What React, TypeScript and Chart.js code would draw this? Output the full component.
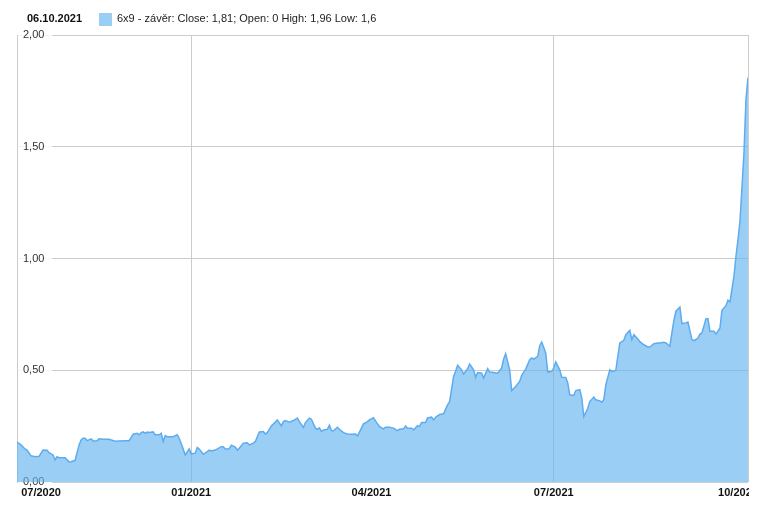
import React, { useEffect, useRef } from 'react';
import { Chart, registerables } from 'chart.js';

Chart.register(...registerables);

// days since 06.10.2020 (trading days)
const dayOffsets = [
  0, 2, 4, 5, 7, 9, 11, 13, 15, 16, 18, 19, 20, 21, 24, 26, 27, 29, 31, 32,
  33, 34, 35, 37, 38, 40, 41, 43, 46, 49, 51, 54, 56, 58, 60, 61, 62, 63, 64, 65,
  66, 68, 69, 71, 72, 73, 74, 75, 78, 80, 81, 83, 84, 86, 87, 89, 90, 91, 93, 95,
  96, 97, 99, 102, 103, 104, 106, 107, 109, 110, 111, 113, 115, 116, 118, 119, 121, 123, 124, 125,
  127, 129, 130, 132, 133, 134, 136, 138, 140, 141, 143, 144, 146, 147, 149, 150, 151, 152, 153, 155,
  156, 157, 158, 160, 161, 163, 165, 167, 169, 170, 171, 173, 175, 176, 178, 180, 181, 183, 184, 186,
  188, 190, 191, 193, 194, 195, 197, 198, 200, 201, 202, 204, 205, 207, 208, 209, 211, 213, 215, 216,
  218, 219, 220, 222, 223, 225, 226, 228, 229, 230, 232, 233, 235, 236, 238, 240, 242, 243, 244, 246,
  247, 249, 251, 252, 254, 256, 257, 258, 260, 261, 262, 264, 265, 267, 268, 269, 271, 272, 274, 275,
  276, 278, 279, 281, 282, 283, 285, 286, 288, 289, 291, 292, 293, 294, 296, 297, 299, 300, 301, 303,
  304, 306, 307, 308, 310, 311, 313, 315, 316, 318, 320, 321, 323, 324, 326, 327, 328, 329, 331, 332,
  334, 335, 337, 338, 340, 341, 342, 344, 345, 346, 348, 349, 351, 352, 354, 355, 356, 358, 359, 360,
  361, 363, 364, 365,
];

const closeValues = [
  0.178, 0.166, 0.148, 0.143, 0.117, 0.113, 0.115, 0.143, 0.142, 0.131, 0.121, 0.099, 0.113, 0.109, 0.109, 0.090, 0.091, 0.097, 0.166, 0.188,
  0.196, 0.196, 0.185, 0.193, 0.184, 0.185, 0.193, 0.191, 0.191, 0.182, 0.184, 0.185, 0.185, 0.214, 0.218, 0.211, 0.221, 0.224, 0.218, 0.223,
  0.221, 0.224, 0.211, 0.211, 0.218, 0.181, 0.208, 0.203, 0.203, 0.212, 0.196, 0.148, 0.121, 0.148, 0.126, 0.129, 0.154, 0.147, 0.124, 0.136,
  0.143, 0.139, 0.143, 0.158, 0.158, 0.148, 0.149, 0.165, 0.156, 0.143, 0.151, 0.174, 0.176, 0.166, 0.174, 0.181, 0.224, 0.226, 0.215, 0.221,
  0.251, 0.268, 0.278, 0.251, 0.270, 0.275, 0.268, 0.275, 0.286, 0.270, 0.244, 0.266, 0.286, 0.281, 0.241, 0.236, 0.242, 0.226, 0.233, 0.236,
  0.254, 0.230, 0.229, 0.245, 0.236, 0.221, 0.215, 0.214, 0.215, 0.206, 0.223, 0.260, 0.270, 0.278, 0.288, 0.260, 0.248, 0.238, 0.245, 0.245,
  0.241, 0.230, 0.236, 0.238, 0.251, 0.241, 0.241, 0.233, 0.252, 0.248, 0.266, 0.266, 0.287, 0.290, 0.278, 0.290, 0.302, 0.305, 0.345, 0.359,
  0.472, 0.495, 0.522, 0.502, 0.483, 0.507, 0.528, 0.502, 0.468, 0.490, 0.487, 0.465, 0.507, 0.492, 0.490, 0.487, 0.510, 0.550, 0.574, 0.502,
  0.409, 0.427, 0.450, 0.477, 0.505, 0.547, 0.555, 0.550, 0.562, 0.610, 0.626, 0.577, 0.492, 0.495, 0.510, 0.537, 0.502, 0.469, 0.468, 0.443,
  0.390, 0.387, 0.409, 0.413, 0.375, 0.293, 0.330, 0.360, 0.380, 0.368, 0.363, 0.357, 0.368, 0.435, 0.502, 0.495, 0.499, 0.562, 0.622, 0.634,
  0.659, 0.679, 0.637, 0.659, 0.640, 0.628, 0.614, 0.604, 0.604, 0.619, 0.622, 0.622, 0.625, 0.622, 0.607, 0.667, 0.723, 0.764, 0.782, 0.709,
  0.712, 0.716, 0.637, 0.632, 0.644, 0.662, 0.667, 0.730, 0.731, 0.674, 0.674, 0.662, 0.689, 0.768, 0.789, 0.813, 0.806, 0.921, 1.010, 1.085,
  1.167, 1.474, 1.713, 1.810,
];

const xTickDays = [12, 87, 177, 268, 360, 365];
const xTickLabels = ['07/2020', '01/2021', '04/2021', '07/2021', '10/2021', ''];
const xGridShown = [false, true, false, true, false, true];
const yTickValues = [0, 0.5, 1, 1.5, 2];

const headerDate = '06.10.2021';
const seriesLabel = '6x9 - závěr: Close: 1,81; Open: 0 High: 1,96 Low: 1,6';

const FONT = 'Arial, "Liberation Sans", sans-serif';
const FILL = 'rgba(100,180,240,0.65)';
const LINE = '#5eacef';
const GRID = '#cccccc';

export default function App() {
  const ref = useRef<HTMLCanvasElement>(null);

  useEffect(() => {
    const chart = new Chart(ref.current as HTMLCanvasElement, {
      type: 'line',
      data: {
        datasets: [
          {
            label: seriesLabel,
            data: dayOffsets.map((d, i) => ({ x: d, y: closeValues[i] })),
            borderColor: LINE,
            borderWidth: 1.5,
            backgroundColor: FILL,
            fill: 'origin',
            pointRadius: 0,
            tension: 0,
            yAxisID: 'y',
          },
        ],
      },
      options: {
        animation: false,
        responsive: false,
        devicePixelRatio: 1,
        events: [],
        layout: { padding: { left: 17, right: 1, top: 35, bottom: 0 } },
        plugins: {
          legend: { display: false },
          tooltip: { enabled: false },
        },
        scales: {
          x: {
            type: 'linear',
            min: 0,
            max: 365,
            afterBuildTicks: (s: any) => {
              s.ticks = xTickDays.map((v) => ({ value: v }));
            },
            afterFit: (s: any) => {
              s.height = 24;
              s.paddingLeft = 0;
              s.paddingRight = 0;
            },
            grid: {
              color: (ctx: any) => (xGridShown[ctx.index] ? GRID : 'rgba(0,0,0,0)'),
              drawTicks: false,
              lineWidth: 1,
            },
            border: { display: false },
            ticks: {
              autoSkip: false,
              maxRotation: 0,
              minRotation: 0,
              padding: 4,
              color: '#111',
              font: { family: FONT, size: 11, weight: 'bold' },
              callback: (_v: any, i: number) => xTickLabels[i],
            },
          },
          y: {
            type: 'linear',
            position: 'left',
            min: 0,
            max: 2,
            afterBuildTicks: (s: any) => {
              s.ticks = yTickValues.map((v) => ({ value: v }));
            },
            afterFit: (s: any) => {
              s.width = 0;
              s.paddingTop = 0;
              s.paddingBottom = 0;
            },
            grid: { color: GRID, drawTicks: false, lineWidth: 1 },
            border: { display: true, color: GRID },
            ticks: { display: false },
          },
          yl: {
            type: 'linear',
            position: 'left',
            min: 0,
            max: 2,
            z: 1,
            afterBuildTicks: (s: any) => {
              s.ticks = yTickValues.map((v) => ({ value: v }));
            },
            afterFit: (s: any) => {
              s.width = 0;
              s.paddingTop = 0;
              s.paddingBottom = 0;
            },
            grid: { display: false, drawTicks: false },
            border: { display: false },
            ticks: {
              mirror: true,
              padding: 6,
              autoSkip: false,
              color: '#333',
              font: { family: FONT, size: 11 },
              showLabelBackdrop: true,
              backdropColor: 'rgba(255,255,255,0.8)',
              backdropPadding: { left: 5, right: 8, top: -1, bottom: -2 },
              callback: (v: any) => Number(v).toFixed(2).replace('.', ','),
            },
          },
        },
      } as any,
    });
    return () => chart.destroy();
  }, []);

  return (
    <div style={{ position: 'absolute', left: 0, top: 0, width: 762, height: 506, background: '#fff' }}>
      <canvas
        ref={ref}
        width={749}
        height={506}
        style={{ position: 'absolute', left: 0, top: 0, width: 749, height: 506, display: 'block' }}
      />
      <div
        style={{
          position: 'absolute',
          left: 27,
          top: 12,
          font: `bold 11px ${FONT}`,
          lineHeight: '13px',
          color: '#111',
          whiteSpace: 'nowrap',
        }}
      >
        {headerDate}
      </div>
      <div style={{ position: 'absolute', left: 99, top: 13, width: 13, height: 13, background: '#9acef5' }} />
      <div
        style={{
          position: 'absolute',
          left: 117,
          top: 12,
          font: `11px ${FONT}`,
          lineHeight: '13px',
          color: '#222',
          whiteSpace: 'nowrap',
        }}
      >
        {seriesLabel}
      </div>
    </div>
  );
}
